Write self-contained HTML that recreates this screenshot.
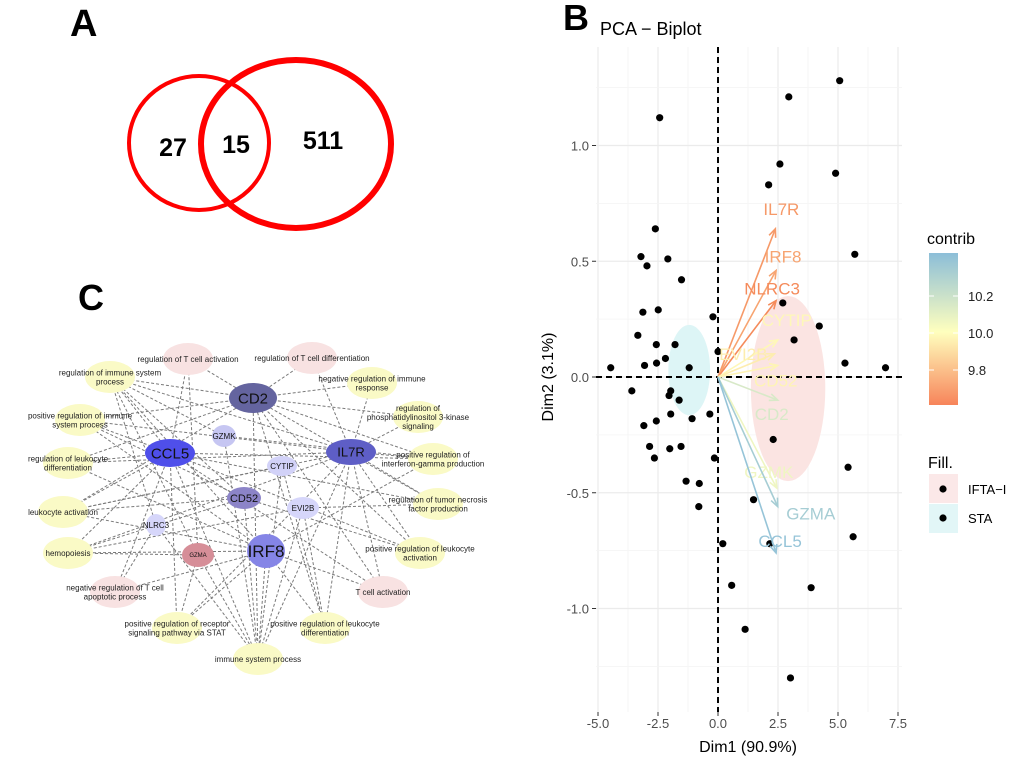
<!DOCTYPE html>
<html><head><meta charset="utf-8"><style>
html,body{margin:0;padding:0;background:#fff;}
svg{display:block;font-family:"Liberation Sans",sans-serif;}
</style></head><body>
<svg id="fig" width="1020" height="764" viewBox="0 0 1020 764">
<g>
<text x="70" y="36" font-size="38" font-weight="bold">A</text>
<ellipse cx="199" cy="143" rx="70" ry="67" fill="none" stroke="#F00" stroke-width="4"/>
<ellipse cx="296" cy="144" rx="95" ry="84" fill="none" stroke="#F00" stroke-width="6"/>
<text x="173" y="156" font-size="25" font-weight="bold" text-anchor="middle">27</text>
<text x="236" y="153" font-size="25" font-weight="bold" text-anchor="middle">15</text>
<text x="323" y="149" font-size="25" font-weight="bold" text-anchor="middle">511</text>
</g>
<text x="78" y="310" font-size="36" font-weight="bold">C</text>
<g id="net"></g>
<text x="563" y="30" font-size="36" font-weight="bold">B</text>
<g id="pca"></g>
</svg>
<script>
const NS="http://www.w3.org/2000/svg";
function mk(p,t,a){const e=document.createElementNS(NS,t);for(const k in a)e.setAttribute(k,a[k]);p.appendChild(e);return e;}

// ---------- Network (panel C) ----------
const geneNames=["CD2","CCL5","IL7R","IRF8","CD52","GZMK","CYTIP","EVI2B","NLRC3","GZMA"];
const genePos=[[253,398],[170,453],[351,452],[266,551],[244,498],[224,436],[282,466],[303,508],[156,525],[198,555]];
const geneSize=[[24,15],[25,14],[25,13],[19,17],[17,11],[12,11],[15,10],[16,11],[10,11],[16,12]];
const geneColor=["#64649F","#4F4FEA","#5E5EC6","#8585E6","#8C84C8","#C6C6F2","#D2D2F8","#D6D6FA","#D6D6FA","#D68E98"];
const geneFont=[15,15,13,17,11,8,8,8,8,6];
const termLabels=[["regulation of T cell activation"],["regulation of T cell differentiation"],["regulation of immune system","process"],["negative regulation of immune","response"],["regulation of","phosphatidylinositol 3-kinase","signaling"],["positive regulation of immune","system process"],["positive regulation of","interferon-gamma production"],["regulation of leukocyte","differentiation"],["leukocyte activation"],["regulation of tumor necrosis","factor production"],["hemopoiesis"],["positive regulation of leukocyte","activation"],["negative regulation of T cell","apoptotic process"],["T cell activation"],["positive regulation of receptor","signaling pathway via STAT"],["positive regulation of leukocyte","differentiation"],["immune system process"]];
const termPos=[[188,359],[312,358],[110,377],[372,383],[418,417],[80,420],[433,459],[68,463],[63,512],[438,504],[68,553],[420,553],[115,592],[383,592],[177,628],[325,628],[258,659]];
const termPink=[1,1,0,0,0,0,0,0,0,0,0,0,1,1,0,0,0];
const edges=[[0,0],[0,1],[0,2],[0,3],[0,4],[0,5],[0,6],[0,7],[0,8],[0,9],[0,11],[0,13],[0,16],[0,15],
[1,0],[1,2],[1,5],[1,7],[1,8],[1,10],[1,11],[1,12],[1,16],[1,14],[1,13],[1,6],[1,9],
[2,1],[2,3],[2,4],[2,6],[2,8],[2,9],[2,10],[2,11],[2,13],[2,15],[2,16],[2,5],[2,2],[2,7],[2,14],
[3,2],[3,5],[3,6],[3,7],[3,8],[3,10],[3,13],[3,16],[3,14],[3,15],[3,12],
[4,2],[4,5],[4,8],[4,10],[4,16],[4,11],[5,2],[5,16],[5,6],[6,16],[6,8],[6,15],[7,10],[7,16],[7,9],[7,15],
[8,12],[8,2],[8,16],[9,2],[9,16],[9,10],[9,14],[9,0]];
const net=document.getElementById('net');
const eg=mk(net,'g',{});


edges.forEach(([g,t])=>{
 const l=mk(eg,'line',{x1:genePos[g][0],y1:genePos[g][1],x2:termPos[t][0],y2:termPos[t][1],stroke:'#7a7a7a','stroke-width':1,'stroke-dasharray':'3,2'});
 
 
});
termLabels.forEach((lab,i)=>{
 const g=mk(net,'g',{});
 
 
 mk(g,'ellipse',{cx:termPos[i][0],cy:termPos[i][1],rx:25,ry:16,fill:termPink[i]?'#F8E2E2':'#FAFAC6'});
 const n=lab.length;
 lab.forEach((s,j)=>{
  const t=mk(g,'text',{x:termPos[i][0],y:termPos[i][1]+3+(j-(n-1)/2)*9,'font-size':8,'text-anchor':'middle',fill:'#222'});
  t.textContent=s;
 });
});
geneNames.forEach((nm,i)=>{
 const g=mk(net,'g',{});
 
 
 mk(g,'ellipse',{cx:genePos[i][0],cy:genePos[i][1],rx:geneSize[i][0],ry:geneSize[i][1],fill:geneColor[i]});
 const t=mk(g,'text',{x:genePos[i][0],y:genePos[i][1]+geneFont[i]*0.36,'font-size':geneFont[i],'text-anchor':'middle',fill:'#111'});
 t.textContent=nm;
});

// ---------- PCA biplot (panel B) ----------
const ptX=[5.07,2.95,-2.43,2.58,2.11,4.9,-2.61,-3.21,-2.96,-2.09,-1.52,5.7,-3.13,-2.49,2.7,-3.34,-0.21,4.22,3.17,-2.57,-1.79,0,-4.47,-3.06,-2.56,-2.19,-1.2,5.29,6.98,-3.59,-1.97,-2.04,-1.62,-1.97,-0.34,-1.08,-3.09,-2.57,2.3,-2.85,-2.01,-1.54,-2.65,-0.15,5.42,-1.33,-0.78,-0.8,1.48,5.63,0.2,2.16,0.57,3.88,1.13,3.02];
const ptY=[1.28,1.21,1.12,0.92,0.83,0.88,0.64,0.52,0.48,0.51,0.42,0.53,0.28,0.29,0.32,0.18,0.26,0.22,0.16,0.14,0.14,0.11,0.04,0.05,0.06,0.08,0.04,0.06,0.04,-0.06,-0.06,-0.08,-0.10,-0.16,-0.16,-0.18,-0.21,-0.19,-0.27,-0.30,-0.31,-0.30,-0.35,-0.35,-0.39,-0.45,-0.46,-0.56,-0.53,-0.69,-0.72,-0.72,-0.90,-0.91,-1.09,-1.30];
const varNames=["IL7R","IRF8","NLRC3","CYTIP","EVI2B","CD52","CD2","GZMK","GZMA","CCL5"];
const varX=[2.39,2.42,2.42,2.49,2.35,2.49,2.49,2.45,2.49,2.42];
const varY=[0.64,0.46,0.33,0.16,0.10,0.05,-0.10,-0.48,-0.56,-0.76];
const varContrib=[9.72,9.75,9.68,9.98,9.95,9.97,10.12,10.05,10.27,10.32];
const xTicks=[-5,-2.5,0,2.5,5,7.5];
const xTickLabels=["-5.0","-2.5","0.0","2.5","5.0","7.5"];
const yTicks=[-1,-0.5,0,0.5,1];
const yTickLabels=["-1.0","-0.5","0.0","0.5","1.0"];
const groupNames=["IFTA-I","STA"];
const ellCx=[2.92,-1.2],ellCy=[-0.05,0.03],ellRx=[1.55,0.87],ellRy=[0.40,0.195];
const ellFill=["#FBE4E2","#DDF5F6"];
const sx=v=>718+v*24, sy=v=>377-v*231.5;
const L=596,R=902,T=47,B=712;
const pca=document.getElementById('pca');
function colorFor(c){
 const stops=[[9.65,[244,128,82]],[10.0,[255,255,190]],[10.35,[140,190,218]]];
 c=Math.max(9.65,Math.min(10.35,c));
 let a=stops[0],b=stops[1]; if(c>10){a=stops[1];b=stops[2];}
 const t=(c-a[0])/(b[0]-a[0]);
 return 'rgb('+a[1].map((v,i)=>Math.round(v+(b[1][i]-v)*t)).join(',')+')';
}
const grid=mk(pca,'g',{});


for(let i=0;i<xTicks.length;i++){
 mk(grid,'line',{x1:sx(xTicks[i]),x2:sx(xTicks[i]),y1:T,y2:B,stroke:'#EBEBEB','stroke-width':1.2});
 if(i<xTicks.length-1){const m=(xTicks[i]+xTicks[i+1])/2;mk(grid,'line',{x1:sx(m),x2:sx(m),y1:T,y2:B,stroke:'#F4F4F4','stroke-width':0.8});}
}
for(let i=0;i<yTicks.length;i++){
 mk(grid,'line',{x1:L,x2:R,y1:sy(yTicks[i]),y2:sy(yTicks[i]),stroke:'#EBEBEB','stroke-width':1.2});
}
[-1.25,-0.75,-0.25,0.25,0.75,1.25].forEach(m=>mk(grid,'line',{x1:L,x2:R,y1:sy(m),y2:sy(m),stroke:'#F4F4F4','stroke-width':0.8}));
for(let i=0;i<2;i++){
 const e=mk(pca,'ellipse',{cx:sx(ellCx[i]),cy:sy(ellCy[i]),rx:ellRx[i]*24,ry:ellRy[i]*231.5,fill:ellFill[i]});
 
 
}
mk(pca,'line',{x1:sx(0),x2:sx(0),y1:T,y2:B,stroke:'#000','stroke-width':2,'stroke-dasharray':'6,4'});
mk(pca,'line',{x1:L,x2:R,y1:sy(0),y2:sy(0),stroke:'#000','stroke-width':2,'stroke-dasharray':'6,4'});
const pts=mk(pca,'g',{});


for(let i=0;i<ptX.length;i++){
 const c=mk(pts,'circle',{cx:sx(ptX[i]),cy:sy(ptY[i]),r:3.6,fill:'#000'});
 
 
}
const labOff=[[6,-14],[7,-8],[-4,-6],[9,-14],[-31,6],[-2,21],[-6,20],[-8,-10],[33,13],[4,-6]];
for(let i=0;i<varNames.length;i++){
 const col=colorFor(varContrib[i]);
 const x2=sx(varX[i]),y2=sy(varY[i]),x1=sx(0),y1=sy(0);
 const g=mk(pca,'g',{});
 
 
 mk(g,'line',{x1,y1,x2,y2,stroke:col,'stroke-width':1.6});
 const ang=Math.atan2(y2-y1,x2-x1),h=9;
 const p=[[x2-h*Math.cos(ang-0.4),y2-h*Math.sin(ang-0.4)],[x2,y2],[x2-h*Math.cos(ang+0.4),y2-h*Math.sin(ang+0.4)]];
 mk(g,'polyline',{points:p.map(q=>q.join(',')).join(' '),fill:'none',stroke:col,'stroke-width':1.6});
 const t=mk(g,'text',{x:x2+labOff[i][0],y:y2+labOff[i][1],'font-size':17,'text-anchor':'middle',fill:col});
 t.textContent=varNames[i];
}
const ax=mk(pca,'g',{});


for(let i=0;i<xTicks.length;i++){
 mk(ax,'line',{x1:sx(xTicks[i]),x2:sx(xTicks[i]),y1:B,y2:B+4,stroke:'#333','stroke-width':1});
 const t=mk(ax,'text',{x:sx(xTicks[i]),y:B+16,'font-size':13,'text-anchor':'middle',fill:'#4D4D4D'});
 t.textContent=xTickLabels[i];
}
for(let i=0;i<yTicks.length;i++){
 mk(ax,'line',{x1:L-4,x2:L,y1:sy(yTicks[i]),y2:sy(yTicks[i]),stroke:'#333','stroke-width':1});
 const t=mk(ax,'text',{x:L-7,y:sy(yTicks[i])+5,'font-size':13,'text-anchor':'end',fill:'#4D4D4D'});
 t.textContent=yTickLabels[i];
}
</script>
<script>
const svg=document.getElementById('fig');
function add(html){svg.insertAdjacentHTML('beforeend',html);}
add('<text x="600" y="35" font-size="18">PCA − Biplot</text>');
add('<text x="748" y="752" font-size="16" text-anchor="middle">Dim1 (90.9%)</text>');
add('<text transform="translate(553,377) rotate(-90)" font-size="16" text-anchor="middle">Dim2 (3.1%)</text>');
add('<defs><linearGradient id="cg" x1="0" y1="0" x2="0" y2="1"><stop offset="0" stop-color="#8CBED8"/><stop offset="0.52" stop-color="#FFFFBE"/><stop offset="1" stop-color="#F7845A"/></linearGradient></defs>');
add('<g><text x="927" y="244" font-size="16">contrib</text><rect x="929" y="253" width="29" height="152" fill="url(#cg)"/><line x1="929" x2="934" y1="296" y2="296" stroke="#fff"/><line x1="953" x2="958" y1="296" y2="296" stroke="#fff"/><line x1="929" x2="934" y1="333" y2="333" stroke="#fff"/><line x1="953" x2="958" y1="333" y2="333" stroke="#fff"/><line x1="929" x2="934" y1="370" y2="370" stroke="#fff"/><line x1="953" x2="958" y1="370" y2="370" stroke="#fff"/><text x="968" y="301" font-size="13" fill="#222">10.2</text><text x="968" y="338" font-size="13" fill="#222">10.0</text><text x="968" y="375" font-size="13" fill="#222">9.8</text></g>');
add('<g><text x="928" y="468" font-size="16">Fill.</text><rect x="929" y="474" width="29" height="29" fill="#FBE8E8"/><circle cx="943" cy="489" r="3.6" fill="#000"/><text x="968" y="494" font-size="13">IFTA−I</text><rect x="929" y="504" width="29" height="29" fill="#E2F6F7"/><circle cx="943" cy="518" r="3.6" fill="#000"/><text x="968" y="523" font-size="13">STA</text></g>');
</script>
</body></html>
